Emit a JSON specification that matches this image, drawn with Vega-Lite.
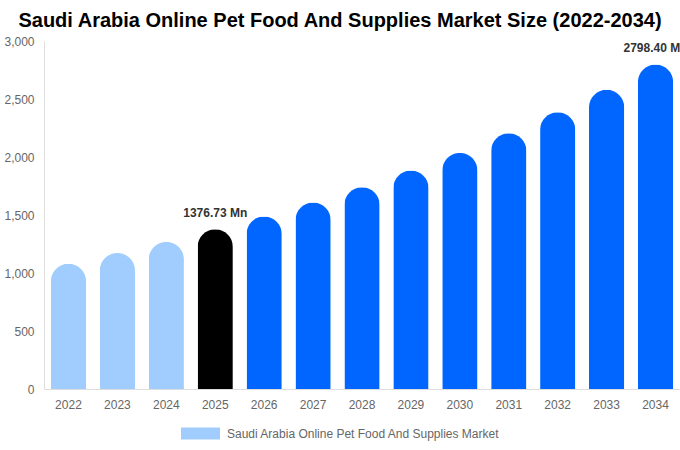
{
  "$schema": "https://vega.github.io/schema/vega-lite/v6.json",
  "width": 680,
  "height": 450,
  "autosize": {"type": "fit", "contains": "padding"},
  "padding": {"left": 3, "right": 0, "top": 11, "bottom": 40},
  "title": {
    "text": "Saudi Arabia Online Pet Food And Supplies Market Size (2022-2034)",
    "font": "Liberation Sans",
    "fontSize": 20,
    "fontWeight": "bold",
    "color": "#000000",
    "offset": 4,
    "dx": -22
  },
  "data": {
    "values": [
      {"year": "2022", "value": 1080, "phase": "Saudi Arabia Online Pet Food And Supplies Market", "label": null},
      {"year": "2023", "value": 1172, "phase": "Saudi Arabia Online Pet Food And Supplies Market", "label": null},
      {"year": "2024", "value": 1268, "phase": "Saudi Arabia Online Pet Food And Supplies Market", "label": null},
      {"year": "2025", "value": 1376.73, "phase": "Base", "label": "1376.73 Mn"},
      {"year": "2026", "value": 1487, "phase": "Forecast", "label": null},
      {"year": "2027", "value": 1608, "phase": "Forecast", "label": null},
      {"year": "2028", "value": 1740, "phase": "Forecast", "label": null},
      {"year": "2029", "value": 1884, "phase": "Forecast", "label": null},
      {"year": "2030", "value": 2035, "phase": "Forecast", "label": null},
      {"year": "2031", "value": 2205, "phase": "Forecast", "label": null},
      {"year": "2032", "value": 2386, "phase": "Forecast", "label": null},
      {"year": "2033", "value": 2580, "phase": "Forecast", "label": null},
      {"year": "2034", "value": 2798.4, "phase": "Forecast", "label": "2798.40 Mn"}
    ]
  },
  "encoding": {
    "x": {
      "field": "year",
      "type": "ordinal",
      "title": null,
      "scale": {"paddingInner": 0.28, "paddingOuter": 0.14},
      "axis": {
        "labelAngle": 0,
        "labelFont": "Liberation Sans",
        "labelFontSize": 12,
        "labelColor": "#666666",
        "labelPadding": 10,
        "ticks": false,
        "domainColor": "#dddddd"
      }
    },
    "y": {
      "field": "value",
      "type": "quantitative",
      "title": null,
      "scale": {"domain": [0, 3000]},
      "axis": {
        "values": [0, 500, 1000, 1500, 2000, 2500, 3000],
        "format": ",.0f",
        "grid": false,
        "ticks": false,
        "labelFont": "Liberation Sans",
        "labelFontSize": 12,
        "labelColor": "#666666",
        "labelPadding": 10,
        "domainColor": "#dddddd"
      }
    }
  },
  "layer": [
    {
      "mark": {"type": "bar", "cornerRadiusTopLeft": 18, "cornerRadiusTopRight": 18},
      "encoding": {
        "color": {
          "field": "phase",
          "type": "nominal",
          "scale": {
            "domain": ["Saudi Arabia Online Pet Food And Supplies Market", "Base", "Forecast"],
            "range": ["#a0cdfd", "#000000", "#0066ff"]
          },
          "legend": {
            "values": ["Saudi Arabia Online Pet Food And Supplies Market"],
            "orient": "none",
            "legendX": 137,
            "legendY": 373,
            "title": null,
            "symbolType": "M-1,-0.31H1V0.31H-1Z",
            "symbolSize": 1521,
            "symbolStrokeWidth": 0,
            "symbolOpacity": 1,
            "labelOffset": 7,
            "labelFont": "Liberation Sans",
            "labelFontSize": 12,
            "labelColor": "#666666",
            "labelLimit": 500
          }
        }
      }
    },
    {
      "transform": [{"filter": "datum.label != null"}],
      "mark": {
        "type": "text",
        "dy": -16,
        "clip": true,
        "font": "Liberation Sans",
        "fontSize": 12,
        "fontWeight": "bold",
        "color": "#333333"
      },
      "encoding": {"text": {"field": "label"}}
    }
  ],
  "config": {"view": {"stroke": null}}
}
